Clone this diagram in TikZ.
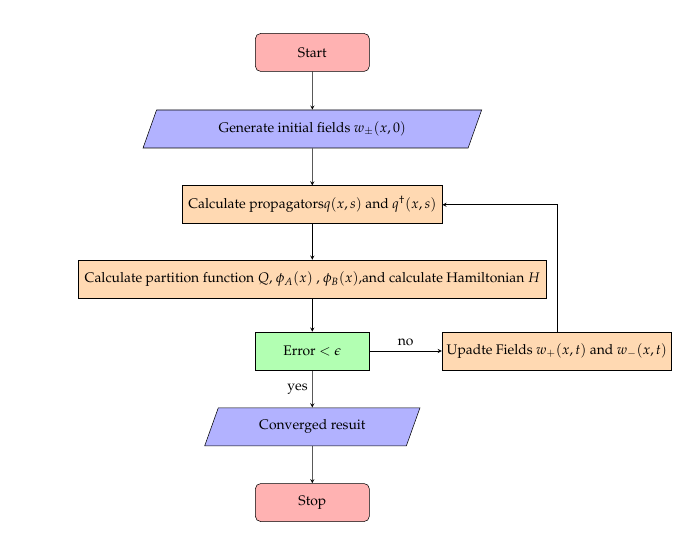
\documentclass[tikz,border=0pt]{standalone}
\usepackage[T1]{fontenc}
\usepackage{mathpazo}
\usepackage{tikz}
\usetikzlibrary{shapes.geometric,arrows.meta,positioning}

\begin{document}
\begin{tikzpicture}[
  font=\fontsize{10.4}{12.5}\selectfont,
  term/.style={rectangle, rounded corners, draw, minimum width=3cm,
    minimum height=1cm, align=center, fill=red!30},
  io/.style={trapezium, trapezium left angle=70, trapezium right angle=110,
    trapezium stretches=true, draw, minimum height=1cm, align=center,
    fill=blue!30},
  proc/.style={rectangle, draw, minimum height=1cm, align=center,
    fill=orange!30},
  check/.style={rectangle, draw, minimum width=3cm, minimum height=1cm,
    align=center, fill=green!30},
  arrow/.style={->, >=stealth}
]
\useasboundingbox (-8.22,1.38) rectangle (9.78,-12.72);
\node[term] (start) {Start};
\node[io, minimum width=8.92cm, below=1cm of start] (gen)
  {Generate initial fields $w_{\pm}(x,0)$};
\node[proc, minimum width=6.83cm, below=0.98cm of gen] (prop)
  {Calculate propagators$q(x,s)$ and $q^{\dagger}(x,s)$};
\node[proc, minimum width=12.3cm, below=0.94cm of prop] (part)
  {Calculate partition function $Q$, $\phi_A(x)$ , $\phi_B(x)$,and calculate Hamiltonian $H$};
\node[check, below=0.88cm of part] (err) {Error $<\epsilon$};
\node[proc, minimum width=6.04cm, right=1.9cm of err] (upd)
  {Upadte Fields $w_{+}(x,t)$ and $w_{-}(x,t)$};
\node[io, minimum width=5.68cm, below=0.98cm of err] (conv) {Converged resuit};
\node[term, below=0.98cm of conv] (stop) {Stop};
\draw[arrow] (start) -- (gen);
\draw[arrow] (gen) -- (prop);
\draw[arrow] (prop) -- (part);
\draw[arrow] (part) -- (err);
\draw[arrow] (err) -- node[above] {no} (upd);
\draw[arrow] (err) -- node[left] {yes} (conv);
\draw[arrow] (upd) |- (prop);
\draw[arrow] (conv) -- (stop);
\end{tikzpicture}
\end{document}
